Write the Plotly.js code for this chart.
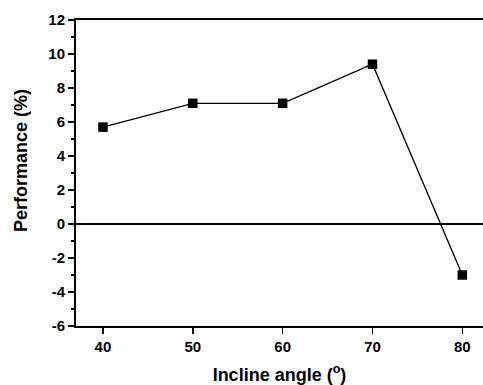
<!DOCTYPE html>
<html>
<head>
<meta charset="utf-8">
<script src="https://cdn.plot.ly/plotly-3.0.1.min.js"></script>
<style>
html,body{margin:0;padding:0;background:#fff;}
#chart{width:483px;height:385px;}
</style>
</head>
<body>
<div id="chart"></div>
<script>
const inclineAngles = [40, 50, 60, 70, 80];
const performance = [5.7, 7.1, 7.1, 9.4, -3.0];
const xTickValues = [40, 50, 60, 70, 80];
const yTickValues = [-6, -4, -2, 0, 2, 4, 6, 8, 10, 12];
const yTickLabels = ['-6', '-4', '-2', '0', '2', '4', '6', '8', '10', '12'];
const xTitle = 'Incline angle (<sup>o</sup>)';
const yTitle = 'Performance (%)';

const trace = {
  x: inclineAngles,
  y: performance,
  type: 'scatter',
  mode: 'lines+markers',
  line: {color: '#000', width: 1.3},
  marker: {symbol: 'square', size: 9.5, color: '#000'},
  showlegend: false,
  cliponaxis: false
};

const fontFam = '"Liberation Sans", Arial, sans-serif';

const layout = {
  width: 483,
  height: 385,
  margin: {l: 76, r: 0, t: 20, b: 59},
  paper_bgcolor: '#fff',
  plot_bgcolor: '#fff',
  font: {family: fontFam, color: '#000'},
  xaxis: {
    range: [37, 82.3],
    tickvals: xTickValues,
    ticks: 'outside',
    ticklen: 6,
    tickwidth: 1.5,
    tickcolor: '#000',
    showline: true,
    linecolor: '#000',
    linewidth: 2,
    mirror: true,
    showgrid: false,
    zeroline: false,
    tickfont: {family: fontFam, size: 15, weight: 'bold', color: '#000'},
    title: {text: xTitle, font: {family: fontFam, size: 18, weight: 'bold', color: '#000'}, standoff: 14}
  },
  yaxis: {
    range: [-6, 12],
    tickvals: yTickValues,
    ticktext: yTickLabels,
    ticks: 'outside',
    ticklen: 6,
    tickwidth: 1.5,
    tickcolor: '#000',
    minor: {dtick: 1, ticks: 'outside', ticklen: 3, tickwidth: 1.2, tickcolor: '#000', showgrid: false},
    showline: true,
    linecolor: '#000',
    linewidth: 2,
    mirror: false,
    showgrid: false,
    zeroline: true,
    zerolinecolor: '#000',
    zerolinewidth: 1.5,
    tickfont: {family: fontFam, size: 15, weight: 'bold', color: '#000'}
  },
  annotations: [{
    text: yTitle,
    textangle: -90,
    xref: 'paper', yref: 'paper',
    x: -0.135, y: 0.539,
    xanchor: 'center', yanchor: 'middle',
    showarrow: false,
    font: {family: fontFam, size: 18, weight: 'bold', color: '#000'}
  }]
};

Plotly.newPlot('chart', [trace], layout, {displayModeBar: false, staticPlot: true});
</script>
</body>
</html>
